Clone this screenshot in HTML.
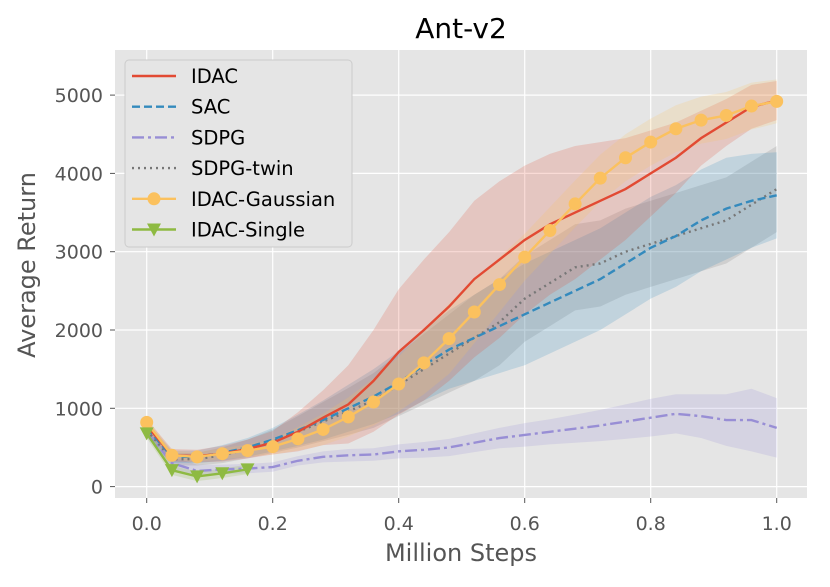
<!DOCTYPE html>
<html><head><meta charset="utf-8"><style>
body{margin:0;background:#fff;}
svg text{font-family:"DejaVu Sans","Liberation Sans",sans-serif;}
</style></head><body>
<svg id="c" width="830" height="582" xmlns="http://www.w3.org/2000/svg">
<rect x="115" y="50" width="692" height="448" fill="#e5e5e5"/>
<g id="grid"></g><g id="bands"></g><g id="lines"></g><g id="axes"></g>
<text x="461" y="38" font-size="28" text-anchor="middle" fill="#000">Ant-v2</text>
<text x="461" y="561" font-size="24" text-anchor="middle" fill="#555">Million Steps</text>
<text transform="translate(35,265) rotate(-90)" font-size="24" text-anchor="middle" fill="#555">Average Return</text>
<g>
<rect x="125" y="60" width="227" height="187" rx="4" fill="#e5e5e5" stroke="#ccc" stroke-width="1"/>
<g id="leg"></g>
</g>
</svg>
<script>
const xs=[0,0.04,0.08,0.12,0.16,0.2,0.24,0.28,0.32,0.36,0.4,0.44,0.48,0.52,0.56,0.6,0.64,0.68,0.72,0.76,0.8,0.84,0.88,0.92,0.96,1.0];
const idac=[780,400,390,420,480,560,700,880,1050,1350,1720,2000,2300,2650,2900,3150,3350,3500,3650,3800,4000,4200,4450,4650,4850,4930];
const idacErr=[80,80,80,100,120,150,250,350,500,650,800,900,950,1000,1000,950,900,850,750,650,550,450,350,300,280,250];
const sac=[750,380,380,430,500,600,720,850,1000,1150,1330,1550,1750,1900,2050,2200,2350,2500,2650,2850,3050,3200,3400,3550,3650,3720];
const sacErr=[80,80,80,100,120,150,200,250,300,350,400,450,500,550,600,650,650,650,650,650,650,650,650,650,600,550];
const twin=[720,350,350,400,480,580,700,830,960,1100,1300,1500,1700,1900,2100,2400,2600,2800,2850,3000,3100,3200,3300,3400,3600,3800];
const twinErr=[80,80,80,100,120,150,200,250,300,350,400,450,500,550,550,550,550,550,550,550,550,550,550,550,550,550];
const sdpg=[700,300,200,220,230,250,330,380,400,410,450,470,500,560,620,660,700,740,780,830,880,930,900,850,850,750];
const sdpgErr=[60,80,80,60,60,60,60,70,80,80,90,100,110,120,130,150,160,180,200,220,240,250,280,330,400,380];
const gauss=[820,400,380,420,460,510,610,730,890,1080,1310,1580,1890,2230,2580,2930,3270,3610,3940,4200,4400,4570,4680,4740,4860,4920];
const gaussErr=[60,60,60,70,80,100,150,200,250,300,350,400,450,400,350,300,300,300,300,300,300,300,300,300,300,280];
const singleX=[0,0.04,0.08,0.12,0.16];
const single=[680,210,130,170,220];
const singleErr=[60,60,60,60,60];
const xTicks=[0,0.2,0.4,0.6,0.8,1.0];
const xTickLabels=["0.0","0.2","0.4","0.6","0.8","1.0"];
const yTicks=[0,1000,2000,3000,4000,5000];

const NS="http://www.w3.org/2000/svg";
const X=v=>146.7+v*630, Y=v=>486.6-v*0.0783;
function mk(t,a,p){const e=document.createElementNS(NS,t);for(const k in a)e.setAttribute(k,a[k]);p.appendChild(e);return e;}
const grid=document.getElementById('grid'),axes=document.getElementById('axes');
xTicks.forEach((t,i)=>{
 const g=mk('line',{x1:X(t),x2:X(t),y1:50,y2:498,stroke:'#fff','stroke-width':1.2},grid);
 
 const tk=mk('line',{x1:X(t),x2:X(t),y1:498,y2:503,stroke:'#555','stroke-width':1},axes);
 
 const l=mk('text',{x:X(t),y:530,'font-size':19,'text-anchor':'middle',fill:'#555'},axes);l.textContent=xTickLabels[i];
 
});
yTicks.forEach(t=>{
 const g=mk('line',{x1:115,x2:807,y1:Y(t),y2:Y(t),stroke:'#fff','stroke-width':1.2},grid);
 
 const tk=mk('line',{x1:110,x2:115,y1:Y(t),y2:Y(t),stroke:'#555','stroke-width':1},axes);
 
 const l=mk('text',{x:103,y:Y(t)+7,'font-size':19,'text-anchor':'end',fill:'#555'},axes);l.textContent=t;
 
});
const bands=document.getElementById('bands'),lines=document.getElementById('lines');
function series(name,xv,yv,ev,col,dash,marker){
 let up=xv.map((x,i)=>X(x)+','+Y(yv[i]+ev[i])),lo=xv.map((x,i)=>X(x)+','+Y(yv[i]-ev[i])).reverse();
 const b=mk('polygon',{points:up.concat(lo).join(' '),fill:col,'fill-opacity':0.2},bands);
 
 const p=mk('polyline',{points:xv.map((x,i)=>X(x)+','+Y(yv[i])).join(' '),fill:'none',stroke:col,'stroke-width':2.4,'stroke-dasharray':dash},lines);
 
 xv.forEach((x,i)=>{
  let m;
  if(marker==='o')m=mk('circle',{cx:X(x),cy:Y(yv[i]),r:6.5,fill:col},lines);
  else if(marker==='v'){const cx=X(x),cy=Y(yv[i]);m=mk('polygon',{points:`${cx-7},${cy-6} ${cx+7},${cy-6} ${cx},${cy+7}`,fill:col},lines);}
  if(m){}
 });
}
series('sdpg',xs,sdpg,sdpgErr,'#988ED5','12,4,3,4');
series('sdpg-twin',xs,twin,twinErr,'#777777','2,4');
series('sac',xs,sac,sacErr,'#348ABD','8,4');
series('idac',xs,idac,idacErr,'#E24A33','');
series('idac-gaussian',xs,gauss,gaussErr,'#FBC15E','','o');
series('idac-single',singleX,single,singleErr,'#8EBA42','','v');
const leg=document.getElementById('leg');
const L=[['IDAC','#E24A33','',''],['SAC','#348ABD','8,4',''],['SDPG','#988ED5','12,4,3,4',''],['SDPG-twin','#777777','2,4',''],['IDAC-Gaussian','#FBC15E','','o'],['IDAC-Single','#8EBA42','','v']];
L.forEach((e,i)=>{
 const y=76+i*30.7;
 const g=mk('g',{},leg);
 mk('line',{x1:132,x2:176,y1:y,y2:y,stroke:e[1],'stroke-width':2.4,'stroke-dasharray':e[2]},g);
 if(e[3]==='o')mk('circle',{cx:154,cy:y,r:6.5,fill:e[1]},g);
 if(e[3]==='v')mk('polygon',{points:`147,${y-6} 161,${y-6} 154,${y+7}`,fill:e[1]},g);
 const t=mk('text',{x:191,y:y+7,'font-size':19.5,fill:'#000'},g);t.textContent=e[0];
});
</script>
</body></html>
